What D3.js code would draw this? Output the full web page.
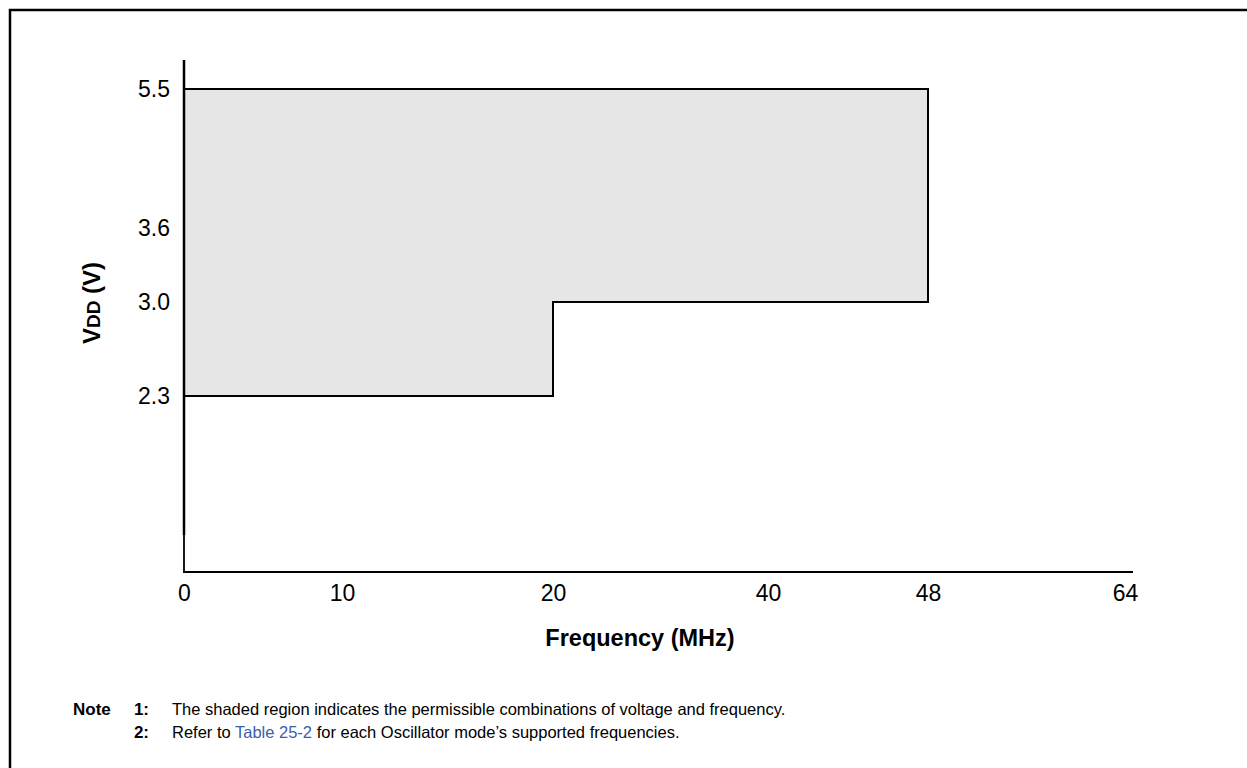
<!DOCTYPE html>
<html><head><meta charset="utf-8">
<script src="https://cdn.jsdelivr.net/npm/d3@7"></script>
<style>
html,body{margin:0;padding:0;background:#fff;}
svg{display:block;font-family:"Liberation Sans",Arial,sans-serif;}
</style></head>
<body>
<svg id="c" width="1247" height="768"></svg>
<script>
// Data
const xTickValues = [0, 10, 20, 40, 48, 64];
const yTickValues = [2.3, 3.0, 3.6, 5.5];
const yTickLabels = ["2.3", "3.0", "3.6", "5.5"];
const regionFreq = [0, 48, 48, 20, 20, 0];
const regionVdd  = [5.5, 5.5, 3.0, 3.0, 2.3, 2.3];
const notes = [
  ["Note", "1:", "The shaded region indicates the permissible combinations of voltage and frequency."],
  ["", "2:", "Refer to ", "Table 25-2", " for each Oscillator mode\u2019s supported frequencies."]
];

const svg = d3.select("#c");

// Piecewise (non-uniform) scales, as in the original figure
const x = d3.scaleLinear().domain(xTickValues).range([184, 342, 553, 768, 928, 1125]);
const y = d3.scaleLinear().domain([0, 2.3, 3.0, 3.6, 5.5]).range([572, 396, 302, 228, 89]);

// Frame
svg.append("path").attr("d", "M10,768 V10 H1250")
  .attr("fill", "none").attr("stroke", "#000").attr("stroke-width", 2.5);

// Shaded region
const pts = regionFreq.map((f, i) => [x(f), y(regionVdd[i])]);
svg.append("path")
  .attr("d", d3.line()(pts) + "Z")
  .attr("fill", "#e6e6e6").attr("stroke", "none");
// Region outline (without left side)
svg.append("path")
  .attr("d", d3.line()(pts))
  .attr("fill", "none").attr("stroke", "#000").attr("stroke-width", 2);

// Y axis line
svg.append("line").attr("x1", x(0)).attr("x2", x(0)).attr("y1", 60).attr("y2", 535)
  .attr("stroke", "#000").attr("stroke-width", 2.5);
svg.append("line").attr("x1", x(0)).attr("x2", x(0)).attr("y1", 535).attr("y2", y(0))
  .attr("stroke", "#000").attr("stroke-width", 1.8);
// X axis line
svg.append("line").attr("x1", x(0) - 1).attr("x2", 1133).attr("y1", y(0)).attr("y2", y(0))
  .attr("stroke", "#000").attr("stroke-width", 2);

// X tick labels
const xAxis = d3.axisBottom(x).tickValues(xTickValues).tickSize(0).tickPadding(0).tickFormat(d3.format("d"));
const gx = svg.append("g").attr("transform", `translate(0,${y(0) + 13})`).call(xAxis);
gx.select(".domain").remove();
gx.selectAll("text").attr("font-size", 23).attr("fill", "#000")
  .attr("font-family", "Liberation Sans, Arial, sans-serif").attr("dy", "0.71em");

// Y tick labels
const yAxis = d3.axisLeft(y).tickValues(yTickValues).tickSize(0).tickPadding(0)
  .tickFormat((d, i) => yTickLabels[i]);
const gy = svg.append("g").attr("transform", `translate(170,0)`).call(yAxis);
gy.select(".domain").remove();
gy.selectAll("text").attr("font-size", 23).attr("fill", "#000")
  .attr("font-family", "Liberation Sans, Arial, sans-serif");

// Axis titles
svg.append("text").attr("x", 640).attr("y", 646).attr("text-anchor", "middle")
  .attr("font-size", 23.5).attr("font-weight", "bold").text("Frequency (MHz)");

const yt = svg.append("text").attr("transform", "translate(100,303) rotate(-90)")
  .attr("text-anchor", "middle").attr("font-weight", "bold").attr("font-size", 24);
yt.append("tspan").text("V");
yt.append("tspan").attr("font-size", 19).text("DD");
yt.append("tspan").text(" (V)");

// Notes
const noteY = [715, 738];
notes.forEach((n, i) => {
  if (n[0]) svg.append("text").attr("x", 73).attr("y", noteY[i]).attr("font-size", 17).attr("font-weight", "bold").text(n[0]);
  svg.append("text").attr("x", 149).attr("y", noteY[i]).attr("font-size", 17).attr("font-weight", "bold").attr("text-anchor", "end").text(n[1]);
  const t = svg.append("text").attr("x", 172).attr("y", noteY[i]).attr("font-size", 16.5);
  t.append("tspan").text(n[2]);
  if (n[3]) {
    t.append("tspan").attr("fill", "#3a5db0").text(n[3]);
    t.append("tspan").text(n[4]);
  }
});
</script>
</body></html>
